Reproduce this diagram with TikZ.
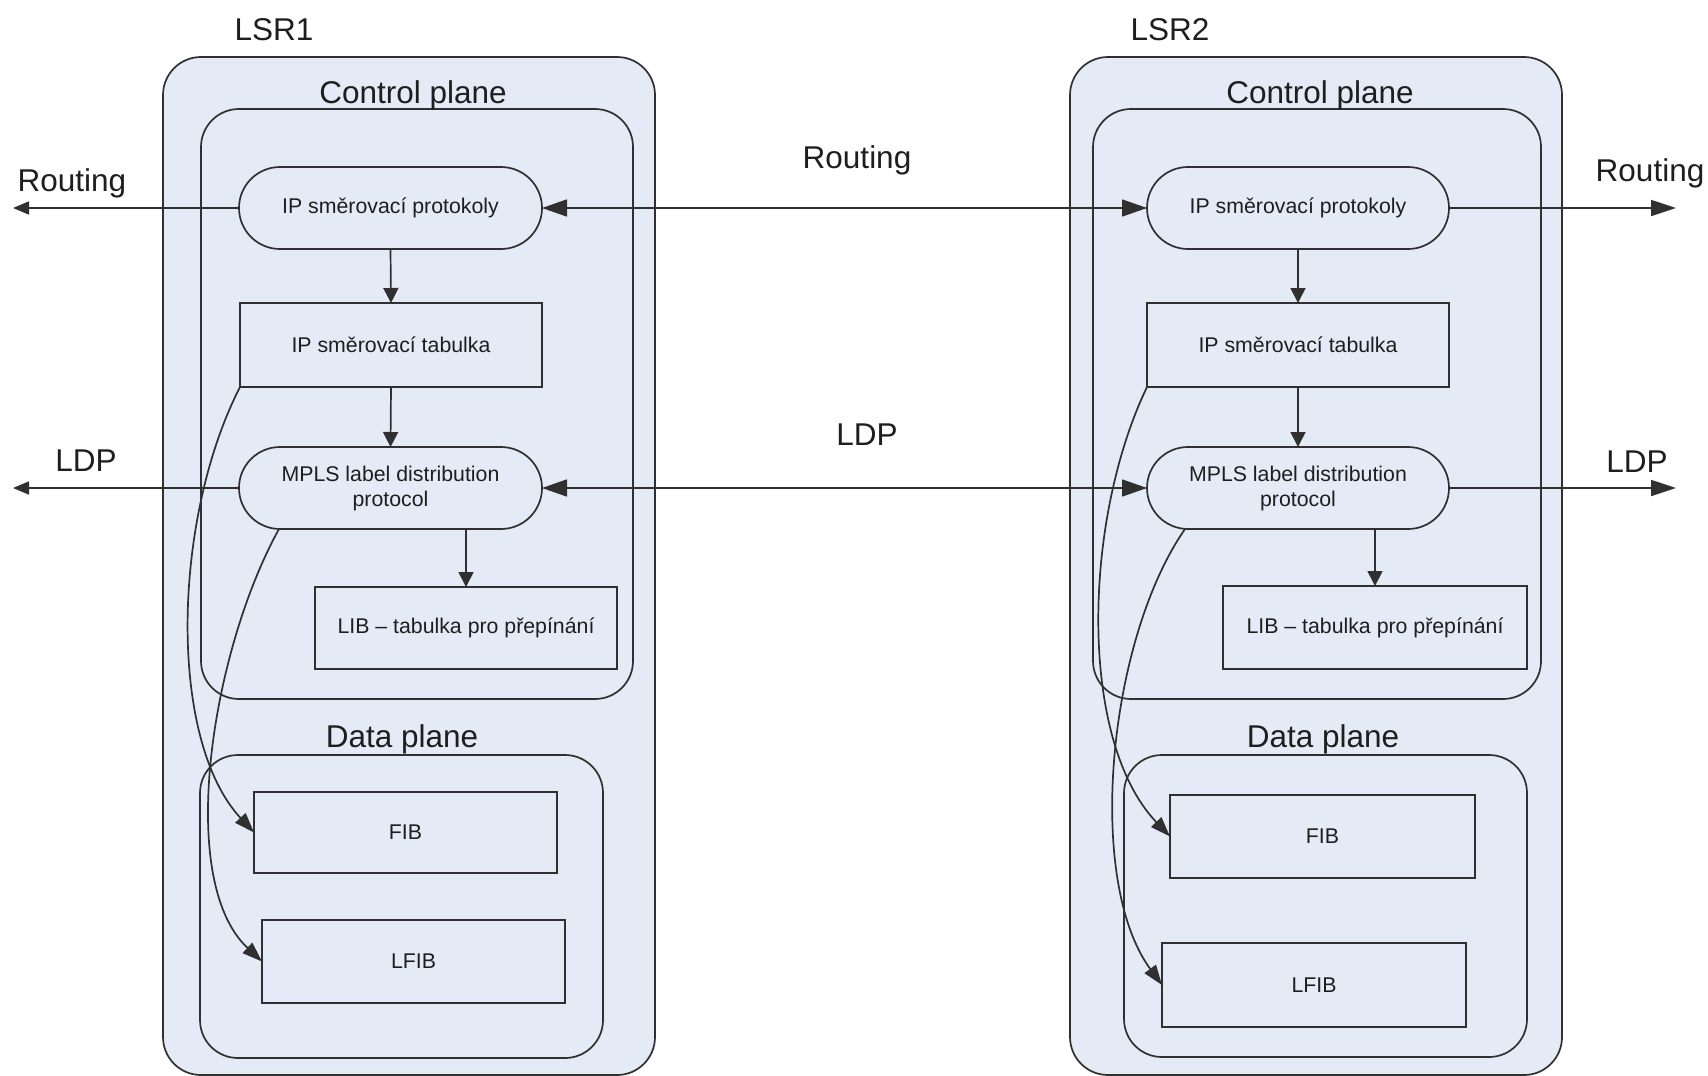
\documentclass[tikz,border=0pt]{standalone}
\usepackage{fontspec}
\setmainfont{Liberation Sans}
\usetikzlibrary{arrows.meta,calc}

\definecolor{panelfill}{RGB}{229,235,246}
\definecolor{edge}{RGB}{48,48,48}
\definecolor{ink}{RGB}{30,30,30}

\newcommand\boxfont{\fontsize{21.3}{25}\selectfont}
\newcommand\titlefont{\fontsize{31.5}{36}\selectfont}

\tikzset{
  panel/.style={draw=edge, fill=panelfill, line width=1.7pt, rounded corners=38pt,
    inner sep=0pt, outer sep=0pt},
  proc/.style={draw=edge, fill=panelfill, line width=1.7pt, rounded corners=41pt,
    inner sep=0pt, outer sep=0pt, minimum height=82pt,
    font=\boxfont, text=ink, align=center},
  tablebox/.style={draw=edge, fill=panelfill, line width=1.7pt,
    inner sep=0pt, outer sep=0pt, font=\boxfont, text=ink, align=center},
  title/.style={font=\titlefont, text=ink, anchor=base, inner sep=0pt},
  link/.style={draw=edge, line width=1.7pt},
  both/.style={link, {Triangle[length=25pt,width=17pt]}-{Triangle[length=25pt,width=17pt]}},
  outright/.style={link, -{Triangle[length=25pt,width=16pt]}},
  outleft/.style={link, -{Triangle[length=16pt,width=13pt]}},
  downarrow/.style={link, -{Triangle[length=15pt,width=15pt]}},
  feed/.style={link, -{Triangle[length=20pt,width=14pt]}},
}

\begin{document}
\begin{tikzpicture}[x=1pt, y=-1pt]
  \useasboundingbox[fill=white] (0,0) rectangle (1708,1076);

  % ---------- LSR1 ----------
  \node[panel, minimum width=492pt, minimum height=1018pt] (lsr1) at (409,566) {};
  \node[panel, minimum width=432pt, minimum height=590pt] (cp1) at (417,404) {};
  \node[panel, minimum width=403pt, minimum height=303pt] (dp1) at (401.5,906.5) {};

  \node[proc, minimum width=303pt] (proto1) at (390.5,208) {IP směrovací protokoly};
  \node[tablebox, minimum width=302pt, minimum height=84pt] (tab1) at (391,345) {IP směrovací tabulka};
  \node[proc, minimum width=303pt] (mpls1) at (390.5,488) {MPLS label distribution\\protocol};
  \node[tablebox, minimum width=302pt, minimum height=82pt] (lib1) at (466,628) {LIB – tabulka pro přepínání};
  \node[tablebox, minimum width=303pt, minimum height=81pt] (fib1) at (405.5,832.5) {FIB};
  \node[tablebox, minimum width=303pt, minimum height=83pt] (lfib1) at (413.5,961.5) {LFIB};

  % ---------- LSR2 ----------
  \node[panel, minimum width=492pt, minimum height=1018pt] (lsr2) at (1316,566) {};
  \node[panel, minimum width=448pt, minimum height=590pt] (cp2) at (1317,404) {};
  \node[panel, minimum width=403pt, minimum height=302pt] (dp2) at (1325.5,906) {};

  \node[proc, minimum width=302pt] (proto2) at (1298,208) {IP směrovací protokoly};
  \node[tablebox, minimum width=302pt, minimum height=84pt] (tab2) at (1298,345) {IP směrovací tabulka};
  \node[proc, minimum width=302pt] (mpls2) at (1298,488) {MPLS label distribution\\protocol};
  \node[tablebox, minimum width=304pt, minimum height=83pt] (lib2) at (1375,627.5) {LIB – tabulka pro přepínání};
  \node[tablebox, minimum width=305pt, minimum height=83pt] (fib2) at (1322.5,836.5) {FIB};
  \node[tablebox, minimum width=304pt, minimum height=84pt] (lfib2) at (1314,985) {LFIB};

  % ---------- internal flow ----------
  \draw[downarrow] (proto1.south) -- (tab1.north);
  \draw[downarrow] (tab1.south) -- (mpls1.north);
  \draw[downarrow] (mpls1.south -| lib1.north) -- (lib1.north);
  \draw[downarrow] (proto2.south) -- (tab2.north);
  \draw[downarrow] (tab2.south) -- (mpls2.north);
  \draw[downarrow] (mpls2.south -| lib2.north) -- (lib2.north);

  \draw[feed] (tab1.south west) .. controls (172,520) and (168,740) .. (fib1.west);
  \draw[feed] ($(mpls1.south west)+(40,0)$) .. controls (212,650) and (175,880) .. (lfib1.west);
  \draw[feed] (tab2.south west) .. controls (1083,520) and (1078,740) .. (fib2.west);
  \draw[feed] ($(mpls2.south west)+(38,0)$) .. controls (1108,640) and (1085,880) .. (lfib2.west);

  % ---------- external sessions ----------
  \coordinate (routeW) at (13,208);
  \coordinate (routeE) at (1676,208);
  \coordinate (ldpW) at (13,488);
  \coordinate (ldpE) at (1676,488);

  \draw[outleft] (proto1.west) -- (routeW);
  \draw[both] (proto1.east) -- (proto2.west);
  \draw[outright] (proto2.east) -- (routeE);
  \draw[outleft] (mpls1.west) -- (ldpW);
  \draw[both] (mpls1.east) -- (mpls2.west);
  \draw[outright] (mpls2.east) -- (ldpE);

  % ---------- titles ----------
  \node[title] (t_lsr1) at (274,40) {LSR1};
  \node[title] (t_lsr2) at (1170,40) {LSR2};
  \node[title] (t_cp1) at (413,103) {Control plane};
  \node[title] (t_cp2) at (1320,103) {Control plane};
  \node[title] (t_dp1) at (402,747) {Data plane};
  \node[title] (t_dp2) at (1323,747) {Data plane};
  \node[title] (t_rW) at (72,191) {Routing};
  \node[title] (t_rM) at (857,168) {Routing};
  \node[title] (t_rE) at (1650,181) {Routing};
  \node[title] (t_lW) at (86,471) {LDP};
  \node[title] (t_lM) at (867,445) {LDP};
  \node[title] (t_lE) at (1637,472) {LDP};
\end{tikzpicture}
\end{document}
